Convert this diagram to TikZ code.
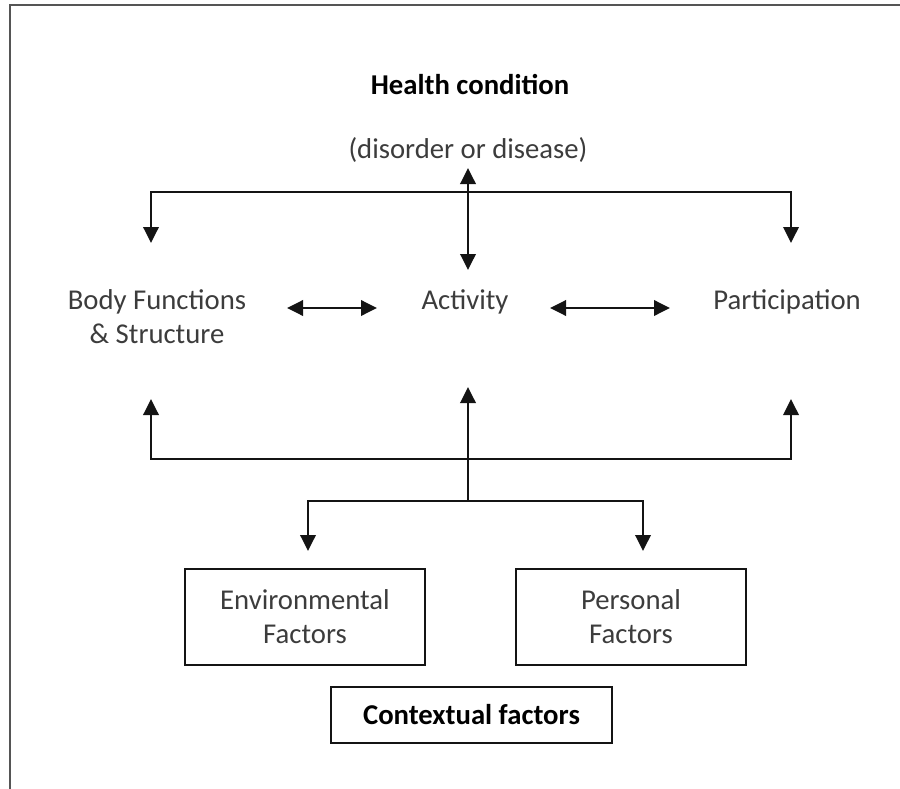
\documentclass[tikz,border=0pt]{standalone}
\usepackage{fontspec}
\setmainfont{Carlito}
\usepackage{tikz}
\usetikzlibrary{arrows.meta,positioning,calc}
\usepackage{xcolor}
\definecolor{textgray}{RGB}{60,60,60}
\definecolor{framegray}{RGB}{85,85,85}
\definecolor{linedark}{RGB}{20,20,20}

\begin{document}
\begin{tikzpicture}[x=0.03cm, y=-0.03cm,
    lbl/.style={font=\fontsize{24.5}{29}\selectfont, text=textgray, inner sep=0pt, align=center},
    boldlbl/.style={lbl, font=\fontsize{24.5}{29}\selectfont\bfseries, text=black},
    factorbox/.style={lbl, draw=linedark, line width=1.8pt, minimum height=2.88cm},
    link/.style={line width=2.1pt, draw=linedark},
    tip/.style={-{Triangle[width=0.46cm,length=0.48cm]}},
    tips/.style={{Triangle[width=0.46cm,length=0.48cm]}-{Triangle[width=0.46cm,length=0.48cm]}}]
    \useasboundingbox (0,0) rectangle (900,789);
    % outer frame (only left and top edges show)
    \draw[framegray, line width=2.4pt] (10,789) -- (10,5) -- (900,5);

    % Health condition
    \node[boldlbl] (health) at (470,85) {Health condition};
    \node[lbl] (disorder) at (468,150) {(disorder or disease)};

    % Middle row
    \node[lbl] (body) at (157,317) {Body Functions\\\& Structure};
    \node[lbl] (activity) at (465,302) {Activity};
    \node[lbl] (particip) at (787,302) {Participation};

    % Contextual factors
    \node[factorbox, minimum width=7.2cm] (env) at (305,617) {Environmental\\Factors};
    \node[factorbox, minimum width=6.9cm] (personal) at (631,617) {Personal\\Factors};
    \node[factorbox, font=\fontsize{24.5}{29}\selectfont\bfseries, text=black,
          minimum width=8.43cm, minimum height=1.68cm] (context) at (471.5,715) {Contextual factors};

    % arrow ends and junctions
    \coordinate (hc-out) at (468,168);
    \coordinate (act-top) at (468,270);
    \coordinate (topbar) at (468,192);
    \coordinate (bf-top) at (151,243);
    \coordinate (pa-top) at (791,243);
    \coordinate (bf-r) at (287,308);
    \coordinate (act-l) at (377,308);
    \coordinate (act-r) at (550,308);
    \coordinate (pa-l) at (670,308);
    \coordinate (bf-bot) at (151,399);
    \coordinate (pa-bot) at (791,399);
    \coordinate (lowbar) at (468,459);
    \coordinate (act-bot) at (468,387);
    \coordinate (split) at (468,501);
    \coordinate (env-in) at (308,551);
    \coordinate (pf-in) at (643,551);

    % Health condition links
    \draw[link, tips] (hc-out) -- (act-top);
    \draw[link, tips] (bf-top) -- (bf-top |- topbar) -- (pa-top |- topbar) -- (pa-top);
    % Between components
    \draw[link, tips] (bf-r) -- (act-l);
    \draw[link, tips] (act-r) -- (pa-l);
    % Contextual factors links
    \draw[link, tips] (bf-bot) -- (bf-bot |- lowbar) -- (pa-bot |- lowbar) -- (pa-bot);
    \draw[link, tip] (split) -- (act-bot);
    \draw[link, tips] (env-in) -- (env-in |- split) -- (pf-in |- split) -- (pf-in);
\end{tikzpicture}
\end{document}
